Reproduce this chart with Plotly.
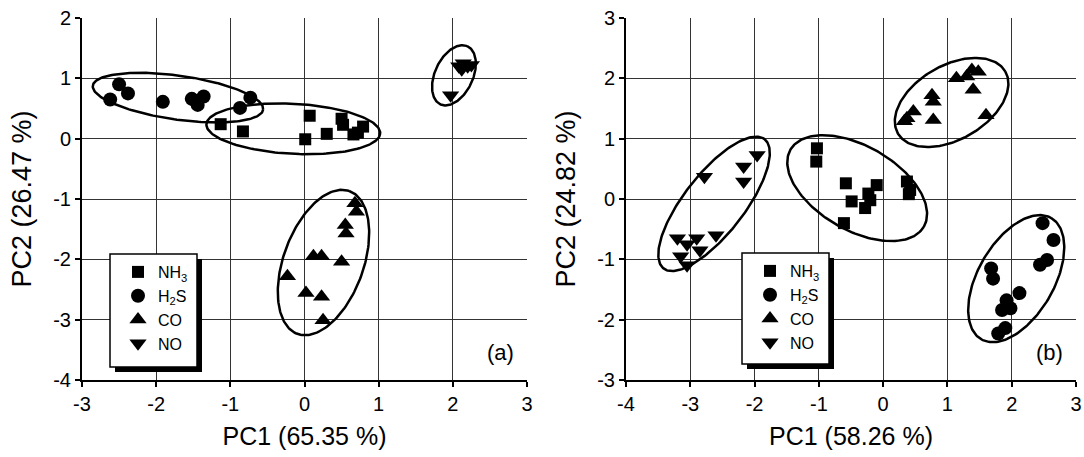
import numpy as np
import plotly.graph_objects as go

# ---------------- data ----------------
# Panel (a)
a_nh3_x = [-1.13, -0.83, 0.07, 0.01, 0.30, 0.50, 0.52, 0.66, 0.79, 0.72]
a_nh3_y = [0.24, 0.12, 0.38, -0.01, 0.08, 0.33, 0.23, 0.07, 0.20, 0.10]
a_h2s_x = [-2.62, -2.50, -2.38, -1.91, -1.52, -1.44, -1.36, -1.47, -0.87, -0.73]
a_h2s_y = [0.65, 0.90, 0.75, 0.61, 0.66, 0.56, 0.70, 0.63, 0.51, 0.68]
a_co_x = [0.68, 0.70, 0.55, 0.56, 0.12, 0.23, 0.50, -0.23, 0.02, 0.23, 0.25]
a_co_y = [-1.07, -1.21, -1.43, -1.57, -1.95, -1.95, -2.04, -2.28, -2.56, -2.62, -3.01]
a_no_x = [2.08, 2.14, 2.20, 2.25, 2.12, 1.97]
a_no_y = [1.20, 1.25, 1.20, 1.22, 1.15, 0.72]

# Panel (b)
b_nh3_x = [-1.03, -1.04, -0.58, -0.10, -0.23, -0.49, -0.28, -0.61, 0.37, 0.42, 0.40, -0.20]
b_nh3_y = [0.84, 0.62, 0.26, 0.23, 0.09, -0.04, -0.15, -0.40, 0.29, 0.15, 0.08, -0.02]
b_h2s_x = [2.48, 2.65, 2.55, 2.44, 1.68, 1.71, 2.12, 1.92, 1.85, 1.98, 1.90, 1.79]
b_h2s_y = [-0.40, -0.68, -1.01, -1.09, -1.15, -1.32, -1.56, -1.68, -1.84, -1.81, -2.14, -2.23]
b_co_x = [1.48, 1.38, 1.30, 1.14, 1.40, 0.76, 0.78, 0.47, 0.37, 0.78, 1.60, 0.33]
b_co_y = [2.11, 2.14, 2.03, 2.00, 1.81, 1.72, 1.61, 1.45, 1.34, 1.31, 1.39, 1.29]
b_no_x = [-1.96, -2.17, -2.17, -2.78, -3.20, -3.05, -2.90, -2.60, -3.15, -3.05, -2.85]
b_no_y = [0.73, 0.54, 0.29, 0.37, -0.65, -0.75, -0.65, -0.60, -0.95, -1.10, -0.85]

gas_names = ["NH<sub>3</sub>", "H<sub>2</sub>S", "CO", "NO"]
gas_symbols = ["square", "circle", "triangle-up", "triangle-down"]
gas_sizes = [12, 14, 15, 15]

x_titles = ["PC1 (65.35 %)", "PC1 (58.26 %)"]
y_titles = ["PC2 (26.47 %)", "PC2 (24.82 %)"]
x_ticks = [[-3, -2, -1, 0, 1, 2, 3], [-4, -3, -2, -1, 0, 1, 2, 3]]
y_ticks = [[-4, -3, -2, -1, 0, 1, 2], [-3, -2, -1, 0, 1, 2, 3]]
x_ranges = [[-3, 3], [-4, 3]]
y_ranges = [[-4, 2], [-3, 3]]
panel_labels = ["(a)", "(b)"]

# cluster ellipses: centre (data), semi-axes (px), tilt (deg, screen)
ell_a = [(-1.706, 0.68, 86, 22, 8), (-0.151, 0.163, 87, 25, 3),
         (0.256, -2.053, 76, 40, -70), (2.015, 1.05, 32, 19, -65)]
ell_b = [(-2.63, -0.08, 82, 30, -52), (-0.404, 0.18, 77, 42, 30),
         (1.065, 1.60, 62, 37, -30), (2.07, -1.32, 70, 38, -60)]

# ---------------- layout geometry ----------------
W, H = 1084, 457
ML, MR, MT, MB = 82, 8, 18, 77
PW = W - ML - MR
PH = H - MT - MB
dom_a = [0, (527 - ML) / PW]
dom_b = [(626 - ML) / PW, 1]

def px2paper(px, py):
    return (px - ML) / PW, (H - MB - py) / PH

FONT = "Arial, Liberation Sans, sans-serif"

fig = go.Figure()

def ellipse(cx, cy, a, b, th, sx, sy):
    t = np.linspace(0, 2 * np.pi, 200)
    r = np.deg2rad(th)
    dx = a * np.cos(t) * np.cos(r) - b * np.sin(t) * np.sin(r)
    dy = a * np.cos(t) * np.sin(r) + b * np.sin(t) * np.cos(r)
    return cx + dx / sx, cy - dy / sy

panels = [
    dict(xs=[a_nh3_x, a_h2s_x, a_co_x, a_no_x], ys=[a_nh3_y, a_h2s_y, a_co_y, a_no_y],
         ell=ell_a, dom=dom_a, xa="x", ya="y", leg="legend"),
    dict(xs=[b_nh3_x, b_h2s_x, b_co_x, b_no_x], ys=[b_nh3_y, b_h2s_y, b_co_y, b_no_y],
         ell=ell_b, dom=dom_b, xa="x2", ya="y2", leg="legend2"),
]

for i, p in enumerate(panels):
    xr, yr = x_ranges[i], y_ranges[i]
    sx = (p["dom"][1] - p["dom"][0]) * PW / (xr[1] - xr[0])
    sy = PH / (yr[1] - yr[0])
    for (cx, cy, a, b, th) in p["ell"]:
        ex, ey = ellipse(cx, cy, a, b, th, sx, sy)
        fig.add_trace(go.Scatter(x=ex, y=ey, mode="lines", line=dict(color="black", width=2.5),
                                 showlegend=False, hoverinfo="skip", xaxis=p["xa"], yaxis=p["ya"]))
    for k in range(4):
        fig.add_trace(go.Scatter(x=p["xs"][k], y=p["ys"][k], mode="markers", name=gas_names[k],
                                 marker=dict(symbol=gas_symbols[k], size=gas_sizes[k], color="black",
                                             line=dict(width=0)),
                                 xaxis=p["xa"], yaxis=p["ya"], legend=p["leg"]))

axis_common = dict(showgrid=True, gridcolor="#333333", gridwidth=1, showline=True, linecolor="black",
                   linewidth=2, ticks="outside", ticklen=5, tickwidth=1.5, tickcolor="black",
                   zeroline=False, automargin=False, tickmode="array",
                   tickfont=dict(family=FONT, size=20, color="black"))

def ax(i, which):
    vals = x_ticks[i] if which == "x" else y_ticks[i]
    return dict(tickvals=vals, ticktext=[str(v) for v in vals])

XT_FONT = dict(family=FONT, size=25, color="black")
YT_FONT = dict(family=FONT, size=27, color="black")

fig.update_layout(
    width=W, height=H, margin=dict(l=ML, r=MR, t=MT, b=MB),
    paper_bgcolor="white", plot_bgcolor="white",
    xaxis=dict(domain=dom_a, range=x_ranges[0], title=dict(text=x_titles[0], standoff=13, font=XT_FONT),
               anchor="y", **ax(0, "x"), **axis_common),
    yaxis=dict(domain=[0, 1], range=y_ranges[0], title=dict(text=y_titles[0], standoff=14, font=YT_FONT),
               anchor="x", **ax(0, "y"), **axis_common),
    xaxis2=dict(domain=dom_b, range=x_ranges[1], title=dict(text=x_titles[1], standoff=13, font=XT_FONT),
                anchor="y2", **ax(1, "x"), **axis_common),
    yaxis2=dict(domain=[0, 1], range=y_ranges[1], title=dict(text=y_titles[1], standoff=14, font=YT_FONT),
                anchor="x2", **ax(1, "y"), **axis_common),
    showlegend=True,
)

# legend boxes (with drop shadow) drawn as shapes; legend entries on top
legend_boxes = [(110, 254, 197, 367, "legend"), (742, 253, 829, 364, "legend2")]
for (x0, y0, x1, y1, lname) in legend_boxes:
    sx0, sy0 = px2paper(x0 + 5, y0 + 5)
    sx1, sy1 = px2paper(x1 + 5, y1 + 5)
    fig.add_shape(type="rect", xref="paper", yref="paper", x0=sx0, y0=sy0, x1=sx1, y1=sy1,
                  fillcolor="black", line=dict(width=0), layer="above")
    bx0, by0 = px2paper(x0, y0)
    bx1, by1 = px2paper(x1, y1)
    fig.add_shape(type="rect", xref="paper", yref="paper", x0=bx0, y0=by0, x1=bx1, y1=by1,
                  fillcolor="white", line=dict(color="black", width=1.5), layer="above")
    lx, ly = px2paper(x0 + 8, y0 + 1)
    fig.update_layout({lname: dict(x=lx, y=ly, xanchor="left", yanchor="top",
                                   bgcolor="rgba(0,0,0,0)", borderwidth=0,
                                   font=dict(family=FONT, size=16, color="black"))})

for i, (xa, ya) in enumerate([("x", "y"), ("x2", "y2")]):
    fig.add_annotation(x=0.975, y=0.035, xref=f"{xa} domain", yref=f"{ya} domain", text=panel_labels[i],
                       showarrow=False, xanchor="right", yanchor="bottom",
                       font=dict(family=FONT, size=22, color="black"))

fig.write_html("out.html")
